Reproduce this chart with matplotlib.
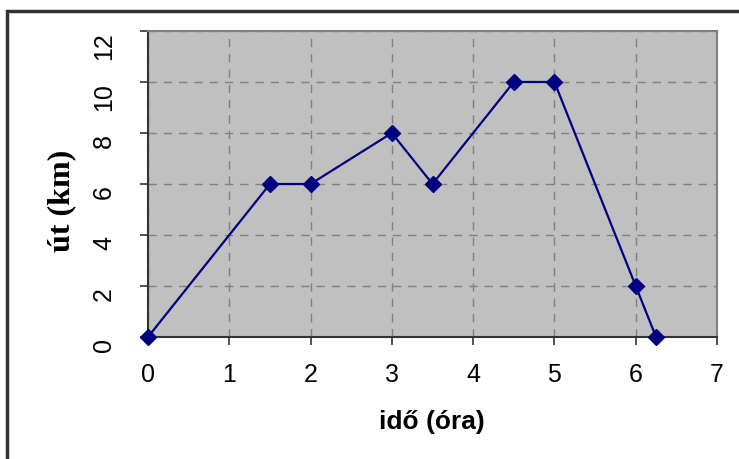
import matplotlib
matplotlib.use("Agg")
import matplotlib.pyplot as plt
from matplotlib.patches import Rectangle

ido = [0, 1.5, 2, 3, 3.5, 4.5, 5, 6, 6.25]
ut = [0, 6, 6, 8, 6, 10, 10, 2, 0]
x_ticks = [0, 1, 2, 3, 4, 5, 6, 7]
y_ticks = [0, 2, 4, 6, 8, 10, 12]

W, H = 739, 460
fig = plt.figure(figsize=(W / 100, H / 100), dpi=100)
fig.patch.set_facecolor("white")

# outer chart frame
fig.patches.append(Rectangle((7 / W, -0.1), 1.2, 1 - 12 / H + 0.1,
                             transform=fig.transFigure, fill=False,
                             edgecolor="#333333", linewidth=2.5, clip_on=False))

ax = fig.add_axes([148 / W, 1 - 338 / H, (717 - 148) / W, (338 - 32) / H])
ax.set_facecolor("#C0C0C0")
ax.plot(ido, ut, color="#000080", linewidth=1.6, marker="D", markersize=8,
        markerfacecolor="#000080", markeredgecolor="#000080", clip_on=False, zorder=5)

ax.set_xlim(0, 7)
ax.set_ylim(0, 12)
ax.set_xticks(x_ticks)
ax.set_yticks(y_ticks)
ax.grid(True, color="#808080", linestyle=(0, (6, 5)), linewidth=1.0)
ax.set_axisbelow(True)

for s in ["top", "right"]:
    ax.spines[s].set_color("#808080")
    ax.spines[s].set_linewidth(1.5)
for s in ["left", "bottom"]:
    ax.spines[s].set_color("#333333")
    ax.spines[s].set_linewidth(1.5)

ax.tick_params(axis="both", direction="out", length=6, width=1.2, color="#333333",
               labelsize=18)
ax.tick_params(axis="x", pad=12)
ax.tick_params(axis="y", pad=17)
for lab in ax.get_xticklabels() + ax.get_yticklabels():
    lab.set_fontfamily("Liberation Sans")
for lab in ax.get_yticklabels():
    lab.set_rotation(90)
    lab.set_verticalalignment("top")

ax.set_xlabel("idő (óra)", fontfamily="Liberation Sans", fontweight="bold",
              fontsize=19)
ax.set_ylabel("út (km)", fontfamily="Liberation Serif", fontweight="bold",
              fontsize=23)
ax.xaxis.set_label_coords((432 - 148) / (717 - 148), -(410 - 338) / (338 - 32))
ax.yaxis.set_label_coords(-(148 - 76) / (717 - 148), (338 - 201) / (338 - 32))

fig.savefig("out.png", dpi=100)
